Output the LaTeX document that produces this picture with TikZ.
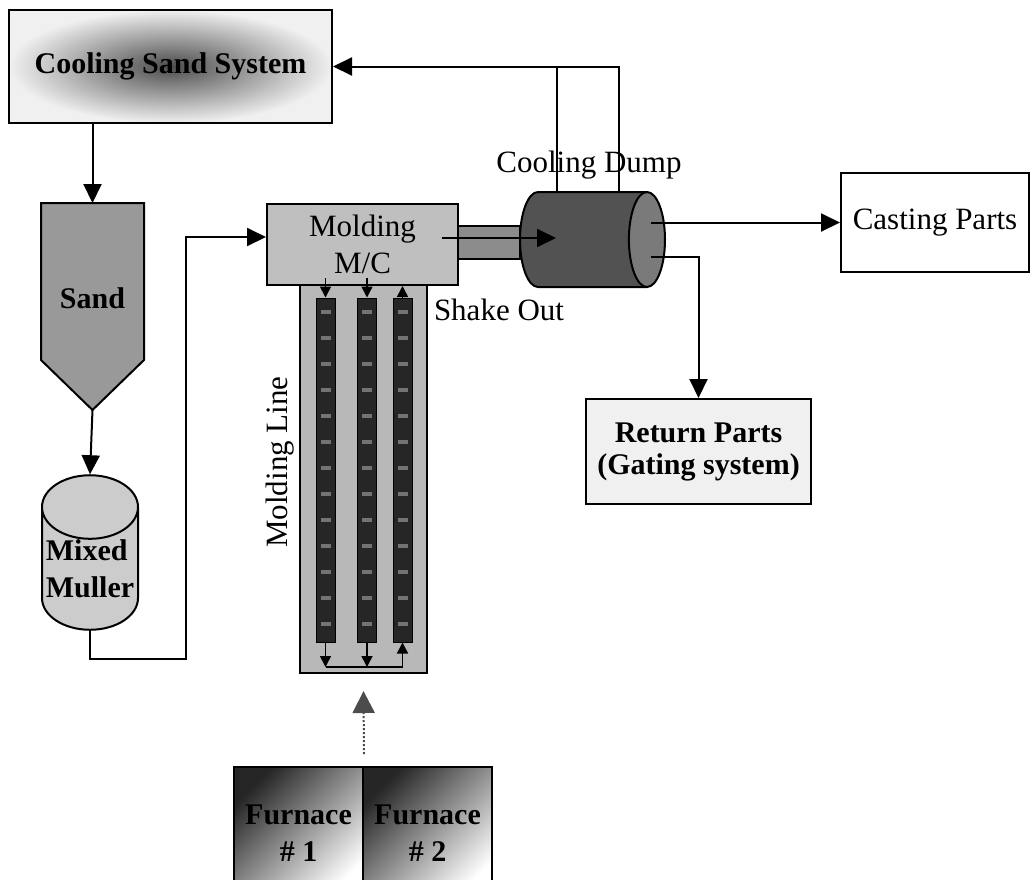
\documentclass[tikz,border=0pt]{standalone}
\usepackage{fontspec}
\setmainfont{Liberation Serif}
\usetikzlibrary{arrows.meta, shapes.geometric}

\tikzset{
  lbl/.style={font=\fontsize{31}{37}\selectfont, align=center, inner sep=0pt},
  blbl/.style={font=\fontsize{30}{37}\selectfont\bfseries, align=center, inner sep=0pt},
  boxx/.style={rectangle, draw=black, line width=2pt, inner sep=0pt},
  flow/.style={line width=2pt, -{Triangle[length=19pt, width=18pt]}},
  wire/.style={line width=2pt},
  tiny/.style={line width=1.5pt, -{Triangle[length=11pt, width=11pt]}},
  rack/.style={rectangle, fill=black!85, draw=black, line width=1pt,
               minimum width=19pt, minimum height=344pt, inner sep=0pt},
}

\begin{document}
\begin{tikzpicture}[x=1pt, y=-1pt]
  \clip (0,0) rectangle (1031,879);
  \fill[white] (0,0) rectangle (1031,879);

  % sand side
  \node[boxx, blbl, minimum width=323pt, minimum height=113pt,
        inner color=black!70, outer color=black!6] (css) at (170.5,66.5) {Cooling Sand System};
  \coordinate (sandtop) at (92.5,203);
  \coordinate (sandtip) at (92.5,410);
  \draw[line width=2pt, fill=black!40] (41,203) -- (144,203) -- (144,360) -- (sandtip) -- (41,360) -- cycle;
  \node[blbl] (sand) at (92.5,298) {Sand};
  \node[cylinder, shape border rotate=90, draw, line width=2pt, fill=black!20, aspect=0.72,
        minimum width=96pt, minimum height=149pt, blbl, align=left, anchor=shape center] (mull) at (90,552.5) {Mixed\\Muller};

  \draw[flow] (sandtop |- css.south) -- (sandtop);
  \draw[flow] (sandtip) -- (mull.north);

  % molding line
  \node[boxx, fill=black!28, minimum width=127pt, minimum height=388pt] (mline) at (363.5,479) {};
  \node[lbl, rotate=90] (mlinelbl) at (280,462) {Molding Line};
  \foreach \n/\x in {1/325.5, 2/367, 3/402.5}{
    \node[rack] (bar\n) at (\x,470) {};
    \foreach \y in {312,338,...,630}
      \fill[black!55] (\x-5,\y-2) rectangle (\x+5,\y+2);
  }
  \node[boxx, lbl, fill=black!25, minimum width=191pt, minimum height=81pt] (mold) at (362.5,244.5) {Molding\\M/C};

  \coordinate (botrow) at (0,667);
  \draw[tiny] ([yshift=8pt]bar1.north |- mold.south) -- (bar1.north);
  \draw[tiny] ([yshift=8pt]bar2.north |- mold.south) -- (bar2.north);
  \draw[tiny] (bar3.north) -- (bar3.north |- mold.south);
  \draw[tiny] (bar1.south) -- (bar1.south |- botrow);
  \draw[tiny] (bar2.south) -- (bar2.south |- botrow);
  \draw[line width=1.5pt] (bar1.south |- botrow) -- (bar3.south |- botrow);
  \draw[tiny] (bar3.south |- botrow) -- (bar3.south);

  \draw[flow] (mull.south) -- ++(0,28) -| ([xshift=-80pt,yshift=7.5pt]mold.west) -- ([yshift=7.5pt]mold.west);

  % shake out
  \node[rectangle, draw, line width=1.5pt, fill=black!45, minimum width=62pt, minimum height=33pt,
        inner sep=0pt] (chute) at (489,242.5) {};
  \node[cylinder, draw, line width=2pt, cylinder uses custom fill, cylinder body fill=black!68,
        cylinder end fill=black!52, aspect=0.38, inner sep=47.5pt, minimum width=95pt, minimum height=145pt,
        anchor=shape center] (dump) at (592.5,239.5) {};
  \node[lbl] (dumplbl) at (589,165) {Cooling Dump};
  \node[lbl] (shake) at (499,310) {Shake Out};
  \draw[flow] ([xshift=-17pt,yshift=6.5pt]mold.east) -- ++(114,0);

  % outputs
  \node[boxx, lbl, fill=white, minimum width=188pt, minimum height=99pt] (cast) at (935,222.5) {Casting Parts};
  \node[boxx, blbl, font=\fontsize{30}{32}\selectfont\bfseries, fill=black!6, minimum width=225pt,
        minimum height=105pt] (ret) at (698.5,451.5) {Return Parts\\(Gating system)};
  \draw[flow] ([xshift=-15pt]cast.west -| dump.top) -- (cast.west);
  \draw[flow] ([xshift=-15pt,yshift=-17.5pt]dump.top) -| (ret.north);

  % sand return
  \draw[flow] ([xshift=26.5pt]dump.shape center |- dump.north) |- (css.east);
  \draw[wire] ([xshift=-35.5pt]dump.shape center |- dump.north) -- ([xshift=-35.5pt]dump.shape center |- css.east);

  % furnaces
  \node[boxx, blbl, minimum width=129pt, minimum height=133pt, top color=black!85, bottom color=white,
        shading angle=45] (fur1) at (298.5,833.5) {Furnace\\\# 1};
  \node[boxx, blbl, minimum width=129pt, minimum height=133pt, top color=black!85, bottom color=white,
        shading angle=45] (fur2) at (427.5,833.5) {Furnace\\\# 2};
  \draw[dotted, line width=2pt, black!70, -{Triangle[length=22pt, width=22pt]}]
    ([yshift=12pt]fur1.north east) -- ([yshift=-17pt]mline.south);
\end{tikzpicture}
\end{document}
